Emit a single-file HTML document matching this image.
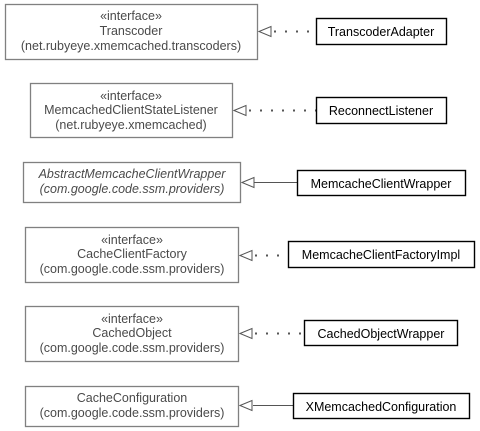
<!DOCTYPE html>
<html><head><meta charset="utf-8"><style>
html,body{margin:0;padding:0;background:#fff;}
svg{display:block;}
text{font-family:"Liberation Sans",sans-serif;font-size:12.5px;}
.g{fill:#4a4a4a;text-anchor:middle;}
.k{fill:#000;text-anchor:middle;}
.gb{fill:#fff;stroke:#808080;stroke-width:1.3;}
.kb{fill:#fff;stroke:#000;stroke-width:1.4;}
.tri{fill:#fff;stroke:#555;stroke-width:1;}
.dot{stroke:#555;stroke-width:2;stroke-dasharray:2 9;}
.ln{stroke:#555;stroke-width:1;}
</style></head><body>
<svg width="480" height="431" viewBox="0 0 480 431">
<!-- 1 -->
<rect class="gb" x="5.5" y="4.5" width="252" height="55"/>
<text class="g" x="131" y="20">«interface»</text>
<text class="g" x="131" y="35">Transcoder</text>
<text class="g" x="131" y="50">(net.rubyeye.xmemcached.transcoders)</text>
<line class="dot" x1="274" y1="31.5" x2="316" y2="31.5"/>
<polygon class="tri" points="259,31.5 271,26.5 271,36.5"/>
<rect class="kb" x="316.5" y="18.5" width="130" height="26"/>
<text class="k" x="381" y="36">TranscoderAdapter</text>
<!-- 2 -->
<rect class="gb" x="30.5" y="83.5" width="202" height="54"/>
<text class="g" x="131" y="100">«interface»</text>
<text class="g" x="131" y="114">MemcachedClientStateListener</text>
<text class="g" x="131" y="129">(net.rubyeye.xmemcached)</text>
<line class="dot" x1="249" y1="110.5" x2="316" y2="110.5"/>
<polygon class="tri" points="234,110.5 246,105.5 246,115.5"/>
<rect class="kb" x="316.5" y="97.5" width="130" height="26"/>
<text class="k" x="381" y="115">ReconnectListener</text>
<!-- 3 -->
<rect class="gb" x="23.5" y="162.5" width="217" height="40"/>
<text class="g" x="132" y="178" font-style="italic">AbstractMemcacheClientWrapper</text>
<text class="g" x="132" y="193" font-style="italic">(com.google.code.ssm.providers)</text>
<line class="ln" x1="254" y1="182.5" x2="297" y2="182.5"/>
<polygon class="tri" points="242,182.5 254,177.5 254,187.5"/>
<rect class="kb" x="297.5" y="170.5" width="168" height="25"/>
<text class="k" x="381" y="188">MemcacheClientWrapper</text>
<!-- 4 -->
<rect class="gb" x="25.5" y="227.5" width="213" height="55"/>
<text class="g" x="132" y="244">«interface»</text>
<text class="g" x="132" y="258">CacheClientFactory</text>
<text class="g" x="132" y="273">(com.google.code.ssm.providers)</text>
<line class="dot" x1="255" y1="255.5" x2="288" y2="255.5"/>
<polygon class="tri" points="240,255.5 252,250.5 252,260.5"/>
<rect class="kb" x="288.5" y="241.5" width="186" height="26"/>
<text class="k" x="381" y="259">MemcacheClientFactoryImpl</text>
<!-- 5 -->
<rect class="gb" x="25.5" y="306.5" width="213" height="55"/>
<text class="g" x="132" y="323">«interface»</text>
<text class="g" x="132" y="337">CachedObject</text>
<text class="g" x="132" y="352">(com.google.code.ssm.providers)</text>
<line class="dot" x1="255" y1="333.5" x2="304" y2="333.5"/>
<polygon class="tri" points="240,333.5 252,328.5 252,338.5"/>
<rect class="kb" x="304.5" y="320.5" width="153" height="25"/>
<text class="k" x="381" y="338">CachedObjectWrapper</text>
<!-- 6 -->
<rect class="gb" x="25.5" y="386.5" width="213" height="40"/>
<text class="g" x="132" y="402">CacheConfiguration</text>
<text class="g" x="132" y="417">(com.google.code.ssm.providers)</text>
<line class="ln" x1="253" y1="405.5" x2="293" y2="405.5"/>
<polygon class="tri" points="240,405.5 252,400.5 252,410.5"/>
<rect class="kb" x="293.5" y="393.5" width="176" height="25"/>
<text class="k" x="381" y="411">XMemcachedConfiguration</text>
</svg>
</body></html>
